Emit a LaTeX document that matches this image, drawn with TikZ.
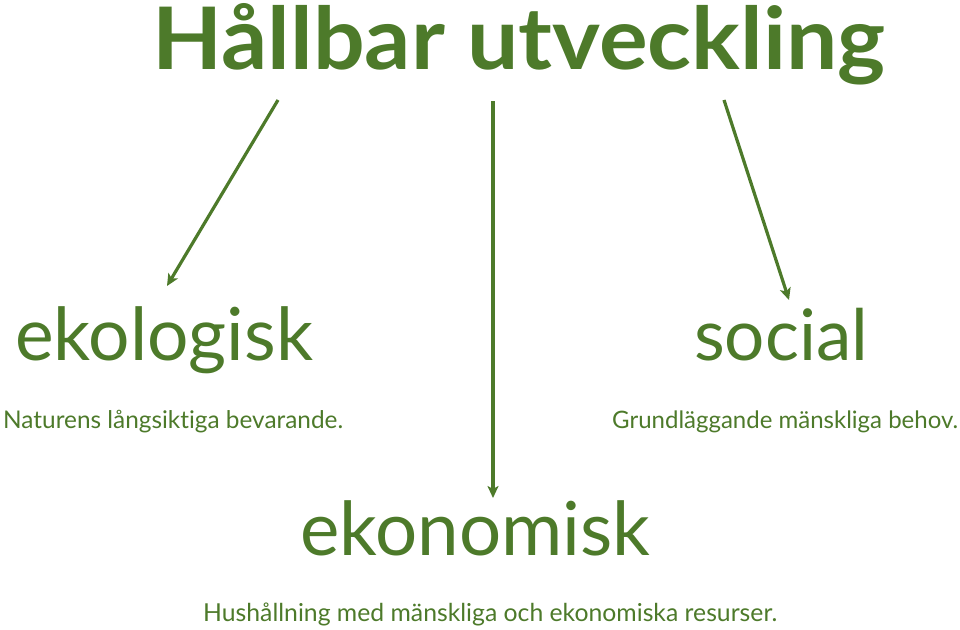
\documentclass[tikz,border=0pt]{standalone}
\usepackage{fontspec}
\usepackage{graphicx}
\setmainfont{Lato}[RawFeature=-liga]
\usetikzlibrary{arrows.meta}
\definecolor{grn}{RGB}{77,122,42}
\tikzset{
  txt/.style={inner sep=0pt, anchor=base west, text=grn},
  arr/.style={draw=grn, line width=3.2pt, -{Stealth[length=12pt,width=11pt,inset=3pt]}}
}
\begin{document}
\begin{tikzpicture}[x=1pt,y=-1pt]
\useasboundingbox (0,0) rectangle (960,629);
\node[txt] (title) at (152,69) {\resizebox{733pt}{66pt}{\bfseries Hållbar utveckling}};
\node[txt] (eko) at (15,360) {\resizebox{298pt}{!}{ekologisk}};
\node[txt] (ekod) at (3,428) {\resizebox{340pt}{!}{Naturens långsiktiga bevarande.}};
\node[txt] (soc) at (694,360) {\resizebox{174pt}{!}{social}};
\node[txt] (socd) at (612,428) {\resizebox{346pt}{!}{Grundläggande mänskliga behov.}};
\node[txt] (ekon) at (300,555) {\resizebox{350pt}{!}{ekonomisk}};
\node[txt] (ekond) at (203,621) {\resizebox{574pt}{!}{Hushållning med mänskliga och ekonomiska resurser.}};
\coordinate (s1) at (278,100);
\coordinate (e1) at (167,286);
\coordinate (s2) at (493,101);
\coordinate (e2) at (493,498);
\coordinate (s3) at (724,100);
\coordinate (e3) at (789,300);
\draw[arr] (s1) -- (e1);
\draw[arr] (s2) -- (e2);
\draw[arr] (s3) -- (e3);
\end{tikzpicture}
\end{document}
